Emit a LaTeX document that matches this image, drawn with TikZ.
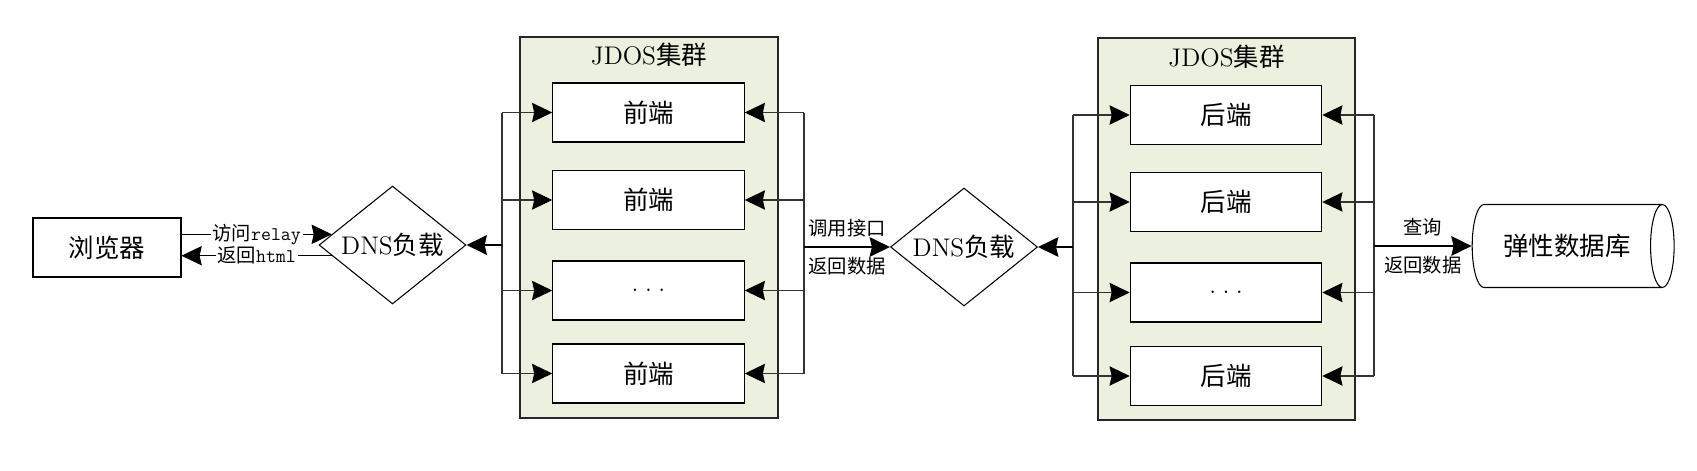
\documentclass[tikz,border=0pt]{standalone}
\usepackage{fontspec}
\newfontfamily\cjk{Noto Sans CJK SC}
\usetikzlibrary{arrows.meta,calc,positioning,shapes.geometric}
\definecolor{clustergreen}{HTML}{EBF1DE}

\tikzset{
	plain/.style={font=\cjk\fontsize{14.5}{17}\selectfont},
	small/.style={font=\cjk\fontsize{11}{13}\selectfont},
	unit/.style={plain, draw, line width=0.6pt, fill=white, minimum width=3.83cm, minimum height=1.18cm, inner sep=0pt},
	cluster/.style={draw=black!85, line width=1.2pt, fill=clustergreen, minimum width=5.15cm, minimum height=7.63cm},
	dns/.style={plain, diamond, draw, line width=0.6pt, fill=white, minimum width=2.94cm, minimum height=2.36cm, inner sep=0pt, shape aspect=1.24},
	db/.style={plain, cylinder, draw, line width=0.6pt, minimum width=1.66cm, minimum height=4.04cm, aspect=1, inner sep=0pt},
	bus/.style={draw=black!80, line width=0.6pt},
	arr/.style={bus, -{Stealth[length=11.5pt,width=11pt,inset=1.2pt,color=black]}},
	mainarr/.style={draw=black, line width=1.6pt, -{Stealth[length=11.5pt,width=11pt,inset=1.2pt]}},
	lbl/.style={small, inner sep=5pt}
}
\newcommand{\gap}{{\rmfamily .\hspace{0.25em}.\hspace{0.25em}.}}

\begin{document}
\begin{tikzpicture}[x=0.02cm, y=-0.02cm]
		%%%%% START %%%%%
		
		\useasboundingbox (0, 0) rectangle (1697, 470);
		
		\node[unit, minimum width=2.96cm] (browser) at (107, 247.5) {浏览器};
		\node[dns] (dns1) at (392.5, 245) {{\rmfamily DNS}负载};
		
		\draw[arr, draw=black] (browser.east |- dns1.170) -- node[small, fill=white, inner sep=1pt] {访问{\ttfamily relay}} (dns1.170);
		\draw[arr, draw=black] (dns1.190) -- node[small, fill=white, inner sep=1pt] {返回{\ttfamily html}} (browser.east |- dns1.190);
		
		\node[cluster] (jdos1) at (649, 227.5) {};
		\node[plain, below=0pt of jdos1.north, inner sep=4pt] (title1) {{\rmfamily JDOS}集群};
		\node[unit] (fe1) at (648.5, 112.5) {前端};
		\node[unit] (fe2) at (648.5, 200) {前端};
		\node[unit] (fe3) at (648.5, 290.5) {\gap};
		\node[unit] (fe4) at (648.5, 373.5) {前端};
		
		\coordinate (fl) at (502, 245);
		\coordinate (fr) at (804, 247);
		
		\draw[bus] (fe1.west -| fl) -- (fe4.west -| fl);
		\draw[arr] (fe1.west -| fl) -- (fe1.west);
		\draw[arr] (fe2.west -| fl) -- (fe2.west);
		\draw[arr] (fe3.west -| fl) -- (fe3.west);
		\draw[arr] (fe4.west -| fl) -- (fe4.west);
		
		\draw[bus] (fe1.east -| fr) -- (fe4.east -| fr);
		\draw[arr] (fe1.east -| fr) -- (fe1.east);
		\draw[arr] (fe2.east -| fr) -- (fe2.east);
		\draw[arr] (fe3.east -| fr) -- (fe3.east);
		\draw[arr] (fe4.east -| fr) -- (fe4.east);
		
		\draw[mainarr] (fl) -- (dns1.east);
		
		\node[dns] (dns2) at (964, 247) {{\rmfamily DNS}负载};
		\draw[mainarr] (fr) -- node[lbl, above] {调用接口} node[lbl, below] {返回数据} (dns2.west);
		
		\node[cluster] (jdos2) at (1226.5, 229) {};
		\node[plain, below=0pt of jdos2.north, inner sep=4pt] (title2) {{\rmfamily JDOS}集群};
		\node[unit] (be1) at (1226, 115) {后端};
		\node[unit] (be2) at (1226, 202) {后端};
		\node[unit] (be3) at (1226, 292.5) {\gap};
		\node[unit] (be4) at (1226, 376) {后端};
		
		\coordinate (bl) at (1073, 247);
		\coordinate (br) at (1374, 246);
		
		\draw[bus] (be1.west -| bl) -- (be4.west -| bl);
		\draw[arr] (be1.west -| bl) -- (be1.west);
		\draw[arr] (be2.west -| bl) -- (be2.west);
		\draw[arr] (be3.west -| bl) -- (be3.west);
		\draw[arr] (be4.west -| bl) -- (be4.west);
		
		\draw[bus] (be1.east -| br) -- (be4.east -| br);
		\draw[arr] (be1.east -| br) -- (be1.east);
		\draw[arr] (be2.east -| br) -- (be2.east);
		\draw[arr] (be3.east -| br) -- (be3.east);
		\draw[arr] (be4.east -| br) -- (be4.east);
		
		\draw[mainarr] (bl) -- (dns2.east);
		
		\node[db] (db) at (1567, 246) {弹性数据库};
		\draw[mainarr] (br) -- node[lbl, above] {查询} node[lbl, below] {返回数据} (db.west);
		
		%%%%% END %%%%%
\end{tikzpicture}
\end{document}
